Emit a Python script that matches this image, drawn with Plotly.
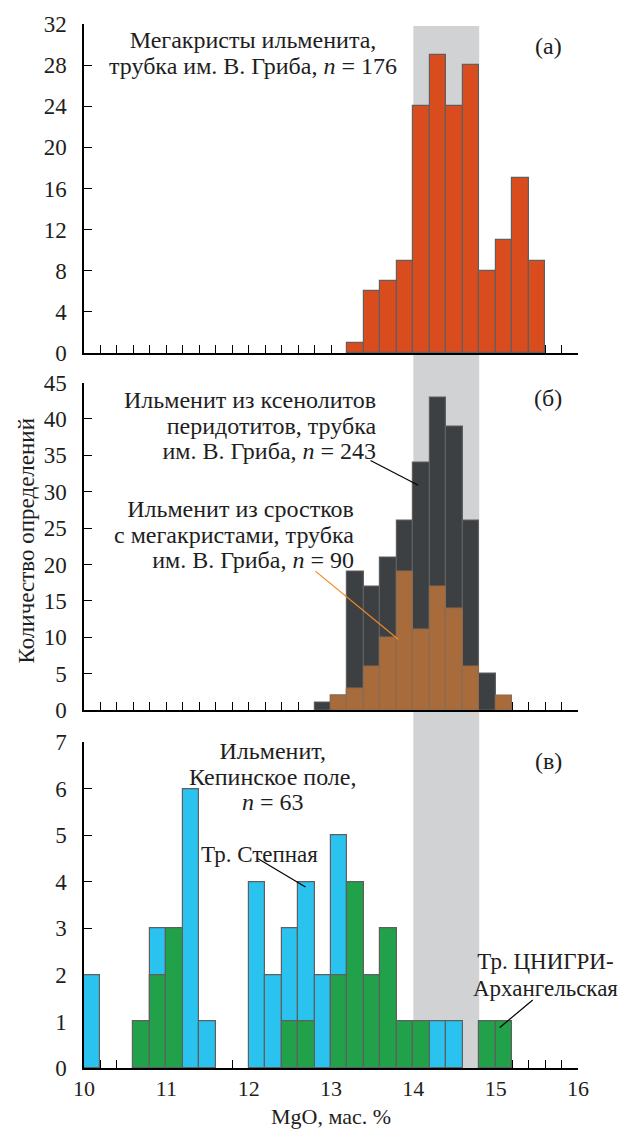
import plotly.graph_objects as go

BIN = 0.2
# Panel (a): ilmenite megacrysts, V. Grib pipe
a_bins = [13.2, 13.4, 13.6, 13.8, 14.0, 14.2, 14.4, 14.6, 14.8, 15.0, 15.2, 15.4]
a_counts = [1, 6, 7, 9, 24, 29, 24, 28, 8, 11, 17, 9]

# Panel (б): xenolith ilmenite (dark) and intergrowth ilmenite (orange)
b_bins = [12.8, 13.0, 13.2, 13.4, 13.6, 13.8, 14.0, 14.2, 14.4, 14.6, 14.8, 15.0]
b_xeno = [1, 2, 19, 17, 21, 26, 34, 43, 39, 26, 5, 0]
b_inter = [0, 2, 3, 6, 10, 19, 11, 17, 14, 6, 0, 2]

# Panel (в): Kepino field, Stepnaya (blue) and TsNIGRI-Arkhangelskaya (green)
c_step_bins = [10.0, 10.8, 11.2, 11.4, 12.0, 12.2, 12.4, 12.6, 12.8, 13.0, 14.2, 14.4]
c_step = [2, 3, 6, 1, 4, 2, 3, 4, 2, 5, 1, 1]
c_tsn_bins = [10.6, 10.8, 11.0, 12.4, 12.6, 13.0, 13.2, 13.4, 13.6, 13.8, 14.0, 14.8, 15.0]
c_tsn = [1, 2, 3, 1, 1, 2, 4, 2, 3, 1, 1, 1, 1]

band = [14.0, 14.8]
x_tick_vals = [round(10 + 0.2 * i, 1) for i in range(31)]
x_tick_text = [str(int(v)) if i % 5 == 0 else "" for i, v in enumerate(x_tick_vals)]

FONT = "Liberation Serif"
TXT = "#1e1e1e"
OUT = "#5f5f5f"
TS = 24   # annotation glyph size
TK = 23   # tick font size

W, H = 629, 1131
L, R, T, B = 84, 51, 17, 63
PW, PH = W - L - R, H - T - B


def px(xp):
    return (xp - L) / PW


def py(yp):
    return (H - B - yp) / PH


def bar(bins, vals, color, xa, ya, lc=OUT):
    xs = [b + BIN / 2 for b, v in zip(bins, vals) if v > 0]
    ys = [v for v in vals if v > 0]
    return go.Bar(x=xs, y=ys, width=BIN, xaxis=xa, yaxis=ya,
                  marker=dict(color=color, line=dict(color=lc, width=1.2)),
                  showlegend=False, hoverinfo="skip")


fig = go.Figure()
fig.add_trace(bar(a_bins, a_counts, "#D94C1E", "x", "y"))
fig.add_trace(bar(b_bins, b_xeno, "#3D4043", "x2", "y2"))
fig.add_trace(bar(b_bins, b_inter, "#A86B3C", "x2", "y2", lc="#8a6a50"))
fig.add_trace(bar(c_step_bins, c_step, "#2AC3EF", "x3", "y3"))
fig.add_trace(bar(c_tsn_bins, c_tsn, "#21A149", "x3", "y3"))

common_x = dict(range=[10, 16], tickmode="array", tickvals=x_tick_vals, ticktext=x_tick_text,
                ticks="inside", ticklen=8, tickwidth=1.3, tickcolor="black",
                showline=True, linecolor="black", linewidth=1.5, showgrid=False,
                zeroline=False, layer="below traces", ticklabelstandoff=0,
                tickfont=dict(family=FONT, size=22, color=TXT))
common_y = dict(ticks="inside", ticklen=8, tickwidth=1.3, tickcolor="black",
                showline=True, linecolor="black", linewidth=1.5, showgrid=False,
                zeroline=False, layer="below traces", ticklabelstandoff=11,
                tickfont=dict(family=FONT, size=TK, color=TXT))

d_a = [py(348.3), 1.0]
d_b = [py(707.7), py(378)]
d_c = [0.0, py(740)]

fig.update_layout(
    width=W, height=H, margin=dict(l=L, r=R, t=T, b=B),
    paper_bgcolor="white", plot_bgcolor="rgba(0,0,0,0)",
    barmode="overlay", bargap=0,
    xaxis=dict(common_x, anchor="y", showticklabels=False),
    yaxis=dict(common_y, domain=d_a, range=[0, 32], dtick=4, anchor="x"),
    xaxis2=dict(common_x, anchor="y2", showticklabels=False),
    yaxis2=dict(common_y, domain=d_b, range=[0, 45], dtick=5, anchor="x2"),
    xaxis3=dict(common_x, anchor="y3", showticklabels=True),
    yaxis3=dict(common_y, domain=d_c, range=[0, 7], dtick=1, anchor="x3"),
)

fig.add_shape(type="rect", xref="x", yref="paper", x0=band[0], x1=band[1],
              y0=0, y1=py(19), fillcolor="#D1D2D4", line=dict(width=0), layer="below")

# leader lines
fig.add_shape(type="line", xref="x2", yref="y2", x0=13.48, y0=34.3, x1=14.06, y1=30.9,
              line=dict(color="black", width=1.2))
fig.add_shape(type="line", xref="x2", yref="y2", x0=12.81, y0=19.1, x1=13.82, y1=9.7,
              line=dict(color="#F08A24", width=1.2))
fig.add_shape(type="line", xref="x3", yref="y3", x0=12.10, y0=4.51, x1=12.69, y1=3.89,
              line=dict(color="black", width=1.2))
fig.add_shape(type="line", xref="x3", yref="y3", x0=15.45, y0=1.46, x1=15.05, y1=0.87,
              line=dict(color="black", width=1.2))


def block(lines, xp, yp, size=TS, spacing=25.5, align="center"):
    # glyphs at `size`, line spacing set through the base font size (1.3 em)
    base = spacing / 1.3
    text = "<br>".join(f"<span style='font-size:{size}px'>{s}</span>" for s in lines)
    fig.add_annotation(text=text, x=px(xp), y=py(yp), xref="paper", yref="paper",
                       showarrow=False, xanchor="center", yanchor="middle", align=align,
                       font=dict(family=FONT, size=base, color=TXT))


def txt(text, xp, yp, size=TS, angle=0):
    fig.add_annotation(text=text, x=px(xp), y=py(yp), xref="paper", yref="paper",
                       showarrow=False, xanchor="center", yanchor="middle", textangle=angle,
                       font=dict(family=FONT, size=size, color=TXT))


block(["Мегакристы ильменита,", "трубка им. В. Гриба, <i>n</i> = 176"], 253, 46)
txt("(а)", 548, 39)

block(["Ильменит из ксенолитов", "перидотитов, трубка", "им. В. Гриба, <i>n</i> = 243"],
      250, 421, align="right")
txt("(б)", 548, 394)

block(["Ильменит из сростков", "с мегакристами, трубка", "им. В. Гриба, <i>n</i> = 90"],
      234, 531, align="right")

block(["Ильменит,", "Кепинское поле,", "<i>n</i> = 63"], 272, 775)
txt("(в)", 548, 759)

txt("Тр. Степная", 259, 853, 23)
block(["Тр. ЦНИГРИ-", "Архангельская"], 545, 974, size=23, spacing=27)

txt("MgO, мас. %", 331, 1117, 22)
txt("Количество определений", 27, 538, 23, -90)

fig.write_html("out.html")
